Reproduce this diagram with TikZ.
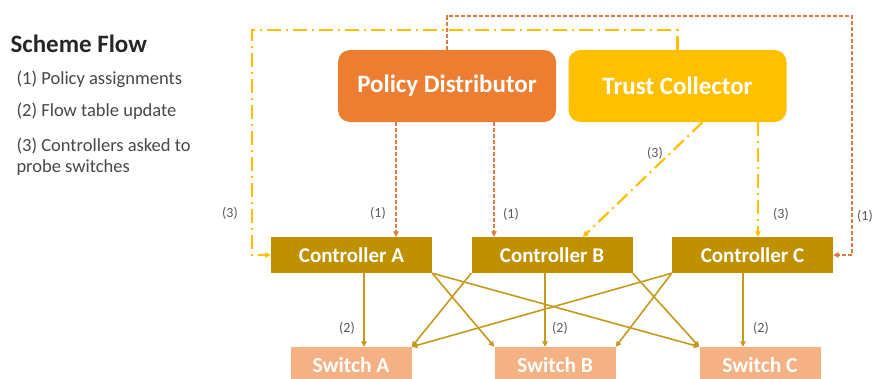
\documentclass[tikz,border=0pt]{standalone}
\usepackage{fontspec}
\setmainfont{Carlito}
\usetikzlibrary{arrows.meta,calc}
\definecolor{pdfill}{HTML}{ED7D31}
\definecolor{tcfill}{HTML}{FFC000}
\definecolor{ctfill}{HTML}{BF9000}
\definecolor{swfill}{HTML}{F4B183}
\definecolor{pdline}{HTML}{E07A45}
\definecolor{tcline}{HTML}{FFC000}
\definecolor{swline}{HTML}{C49A1C}
\definecolor{lbl}{HTML}{595959}
\tikzset{
  bigbox/.style={rounded corners=12pt, minimum width=218pt, minimum height=72pt,
    text=white, font=\fontsize{25}{30}\selectfont\bfseries, inner sep=0pt},
  ctrlbox/.style={fill=ctfill, minimum width=161pt, minimum height=36pt,
    text=white, font=\fontsize{21}{25}\selectfont\bfseries, inner sep=0pt},
  swbox/.style={fill=swfill, minimum width=121pt, minimum height=36pt,
    text=white, font=\fontsize{21.5}{25}\selectfont\bfseries, inner sep=0pt},
  tip/.style={-{Triangle[length=5.5pt,width=5.5pt]}},
  policy/.style={pdline, line width=2.2pt, dash pattern=on 4pt off 2pt, tip},
  trust/.style={tcline, line width=2.2pt, dash pattern=on 14pt off 5pt on 2pt off 5pt, tip},
  link/.style={swline, line width=1.6pt, tip},
  tag/.style={text=lbl, font=\fontsize{14}{16}\selectfont},
  legend/.style={anchor=base west, text=black!72, font=\fontsize{18.5}{22}\selectfont},
}
\begin{document}
\begin{tikzpicture}[x=1pt, y=-1pt]
\useasboundingbox (0,0) rectangle (874,378);

% legend
\node[anchor=base west, text=black!85, font=\fontsize{25}{30}\selectfont\bfseries]
  (title) at (7,52) {Scheme Flow};
\node[legend] (l1) at (13,84) {(1) Policy assignments};
\node[legend] (l2) at (13,116) {(2) Flow table update};
\node[legend] (l3) at (13,151) {(3) Controllers asked to};
\node[legend] (l4) at (13,172) {probe switches};

% upper tier
\node[bigbox, fill=pdfill] (pd) at (447,86) {Policy Distributor};
\node[bigbox, fill=tcfill] (tc) at (677.5,86) {Trust Collector};

% controllers
\node[ctrlbox] (ca) at (351.5,255) {Controller A};
\node[ctrlbox] (cb) at (552,255) {Controller B};
\node[ctrlbox] (cc) at (752.5,255) {Controller C};

% switches
\node[swbox] (sa) at (351,365) {Switch A};
\node[swbox] (sb) at (555,365) {Switch B};
\node[swbox] (sc) at (760,365) {Switch C};

% policy assignments
\draw[policy] ([xshift=-51pt]pd.south) -- ([xshift=-51pt]pd.south |- ca.north);
\draw[policy] ([xshift=47pt]pd.south) -- ([xshift=47pt]pd.south |- cb.north);
\coordinate (pdturn) at (852,16);
\draw[policy] (pd.north) |- (pdturn) |- (cc.east);

% probe requests
\coordinate (tcturn) at (252,30);
\draw[trust] (tc.north) |- (tcturn) |- (ca.west);
\draw[trust] ([xshift=25pt]tc.south) -- ([xshift=31pt]cb.north);
\draw[trust] ([xshift=80.5pt]tc.south) -- ([xshift=80.5pt]tc.south |- cc.north);

% flow table updates
\draw[link] ([xshift=12.5pt]ca.south) -- ([xshift=12.5pt]ca.south |- sa.north);
\draw[link] ([xshift=-7pt]cb.south) -- ([xshift=-7pt]cb.south |- sb.north);
\draw[link] ([xshift=-9.5pt]cc.south) -- ([xshift=-9.5pt]cc.south |- sc.north);
\draw[link] (ca.south east) -- (sb.north west);
\draw[link] (ca.south east) -- (sc.north west);
\draw[link] (cb.south west) -- (sa.north east);
\draw[link] (cb.south east) -- (sc.north west);
\draw[link] (cc.south west) -- (sa.north east);
\draw[link] (cc.south west) -- (sb.north east);

% step labels
\node[tag] (t1a) at (378,213) {(1)};
\node[tag] (t1b) at (511,214) {(1)};
\node[tag, anchor=east, inner sep=1pt] (t1c) at (874,216) {(1)};
\node[tag] (t3a) at (230,213) {(3)};
\node[tag] (t3b) at (655,153) {(3)};
\node[tag] (t3c) at (781,214) {(3)};
\node[tag] (t2a) at (347,328) {(2)};
\node[tag] (t2b) at (560,328) {(2)};
\node[tag] (t2c) at (761,328) {(2)};
\end{tikzpicture}
\end{document}
